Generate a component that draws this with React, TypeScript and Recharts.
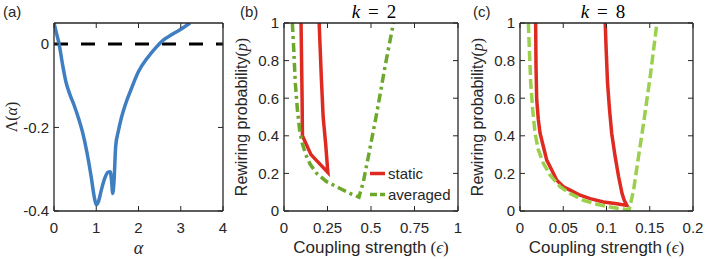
import React from "react";
import { LineChart, Line, XAxis, YAxis, ReferenceLine, Legend } from "recharts";

// (a) largest Lyapunov exponent vs alpha
const alphaValues = [0, 0.06, 0.12, 0.2, 0.28, 0.38, 0.48, 0.58, 0.68, 0.78, 0.88, 0.95, 1.0, 1.05, 1.12, 1.2, 1.28, 1.33, 1.36, 1.39, 1.42, 1.46, 1.52, 1.6, 1.7, 1.82, 2.0, 2.2, 2.4, 2.6, 2.8, 3.0, 3.22];
const lambdaValues = [0.05, 0.025, 0, -0.048, -0.09, -0.122, -0.148, -0.178, -0.213, -0.26, -0.318, -0.365, -0.385, -0.378, -0.35, -0.322, -0.307, -0.306, -0.325, -0.358, -0.33, -0.245, -0.21, -0.175, -0.142, -0.11, -0.066, -0.035, -0.01, 0.01, 0.023, 0.035, 0.05];
const alphaTicks = [0, 1, 2, 3, 4];
const lambdaTicks = [-0.4, -0.2, 0];

// (b) k = 2
const bStaticEps = [0.098, 0.101, 0.104, 0.106, 0.155, 0.252, 0.24, 0.225, 0.215, 0.202];
const bStaticP = [1, 0.8, 0.6, 0.4, 0.3, 0.205, 0.35, 0.5, 0.7, 1];
const bAvgEps = [0.048, 0.056, 0.065, 0.077, 0.09, 0.105, 0.125, 0.15, 0.188, 0.245, 0.322, 0.379, 0.431, 0.456, 0.485, 0.533, 0.581, 0.629];
const bAvgP = [1, 0.86, 0.68, 0.54, 0.43, 0.36, 0.3, 0.25, 0.2, 0.156, 0.12, 0.094, 0.074, 0.155, 0.29, 0.52, 0.77, 1];
const bEpsTicks = [0, 0.25, 0.5, 0.75, 1];

// (c) k = 8
const cStaticEps = [0.0181, 0.0185, 0.0193, 0.0212, 0.0232, 0.027, 0.0309, 0.0367, 0.0425, 0.0502, 0.0579, 0.0695, 0.0811, 0.0965, 0.112, 0.1236, 0.1205, 0.118, 0.114, 0.11, 0.106, 0.1035, 0.1012, 0.0996, 0.0985];
const cStaticP = [1, 0.771, 0.593, 0.486, 0.414, 0.343, 0.271, 0.218, 0.164, 0.129, 0.111, 0.084, 0.066, 0.048, 0.039, 0.03, 0.057, 0.093, 0.182, 0.289, 0.414, 0.539, 0.682, 0.861, 1];
const cAvgEps = [0.0097, 0.0108, 0.0124, 0.0147, 0.0174, 0.0212, 0.027, 0.0347, 0.0463, 0.0579, 0.0734, 0.0888, 0.1042, 0.1178, 0.1262, 0.1313, 0.137, 0.1429, 0.1506, 0.1583];
const cAvgP = [1, 0.861, 0.682, 0.539, 0.414, 0.325, 0.254, 0.191, 0.129, 0.093, 0.057, 0.036, 0.021, 0.011, 0.005, 0.111, 0.289, 0.468, 0.718, 1];
const cEpsTicks = [0, 0.05, 0.1, 0.15, 0.2];

const pTicks = [0, 0.2, 0.4, 0.6, 0.8, 1];
const seriesNames = ["static", "averaged"];

const FONT = '"Liberation Sans", Arial, Helvetica, sans-serif';
const SERIF = '"Liberation Serif", "Times New Roman", serif';
const AXIS = "#262626";
const BLUE = "#3e7ec1";
const RED = "#de2a20";
const GREEN_B = "#6ba82c";
const GREEN_C = "#9ad04c";

const H = 259;
const TOP = 23;
const X_AXIS_H = 48;
const Y_AXIS_W = 54;

const zip = (xs: number[], ys: number[]) => xs.map((x, i) => ({ x, y: ys[i] }));

const tickStyle = { fontSize: 15, fill: AXIS, fontFamily: FONT };
const noText = () => "";

// rotated y label, placed at a fixed x (baseline) and centred on the plot
const yLabel = (x: number, node: React.ReactNode) => ({
  content: (props: any) => {
    const vb = props.viewBox || {};
    const cy = (vb.y ?? TOP) + (vb.height ?? H - TOP - X_AXIS_H) / 2;
    return (
      <text x={x} y={cy} transform={`rotate(-90 ${x} ${cy})`} textAnchor="middle" fontFamily={FONT} fontSize={16} fill={AXIS}>
        {node}
      </text>
    );
  },
});

const xLabel = (y: number, node: React.ReactNode) => ({
  content: (props: any) => {
    const vb = props.viewBox || {};
    const cx = (vb.x ?? Y_AXIS_W) + (vb.width ?? 170) / 2;
    return (
      <text x={cx} y={y} textAnchor="middle" fontFamily={FONT} fontSize={17} fill={AXIS}>
        {node}
      </text>
    );
  },
});

// MATLAB style box: labels on bottom/left, inward ticks on all four sides
function boxAxes(
  xDomain: number[],
  xTicks: number[],
  yDomain: number[],
  yTicks: number[],
  xLab: any,
  yLab: any,
) {
  const line = { stroke: AXIS, strokeWidth: 1.3 };
  const tl = { stroke: AXIS, strokeWidth: 1 };
  return [
    <XAxis key="xb" type="number" dataKey="x" domain={xDomain} ticks={xTicks} interval={0} allowDataOverflow
      height={X_AXIS_H} tickLine={tl} tickSize={-5} tickMargin={16} tick={tickStyle}
      axisLine={line} label={xLab} />,
    <XAxis key="xt" xAxisId="t" orientation="top" type="number" dataKey="x" domain={xDomain} ticks={xTicks} interval={0} allowDataOverflow
      mirror height={1} tickFormatter={noText} tickSize={5} axisLine={line} tickLine={tl} />,
    <YAxis key="yl" type="number" domain={yDomain} ticks={yTicks} interval={0} allowDataOverflow
      width={Y_AXIS_W} tickLine={tl} tickSize={-5} tickMargin={10} tick={tickStyle}
      axisLine={line} label={yLab} />,
    <YAxis key="yr" yAxisId="r" orientation="right" type="number" domain={yDomain} ticks={yTicks} interval={0} allowDataOverflow
      mirror width={1} tickFormatter={noText} tickSize={5} axisLine={line} tickLine={tl} />,
  ];
}

const legendRows = [
  { name: seriesNames[0], color: RED, dash: undefined as string | undefined },
  { name: seriesNames[1], color: GREEN_B, dash: "7 3" },
];

function StaticLegend() {
  return (
    <div style={{ fontFamily: FONT, fontSize: 15, color: AXIS, lineHeight: "21px" }}>
      {legendRows.map((r) => (
        <div key={r.name} style={{ display: "flex", alignItems: "center", height: 21 }}>
          <svg width={18} height={21}>
            <line x1={1} x2={16} y1={10.5} y2={10.5} stroke={r.color} strokeWidth={3.5} strokeDasharray={r.dash} />
          </svg>
          <span style={{ marginLeft: 1 }}>{r.name}</span>
        </div>
      ))}
    </div>
  );
}

const epsLabel = (
  <>
    Coupling strength
    <tspan fontFamily={SERIF} dx={4}>(</tspan>
    <tspan fontFamily={SERIF} fontStyle="italic">ϵ</tspan>
    <tspan fontFamily={SERIF}>)</tspan>
  </>
);

const pLabel = (
  <>
    Rewiring probability
    <tspan fontFamily={SERIF}>(</tspan>
    <tspan fontFamily={SERIF} fontStyle="italic">p</tspan>
    <tspan fontFamily={SERIF}>)</tspan>
  </>
);

export default function App() {
  const aData = zip(alphaValues, lambdaValues);
  const bStatic = zip(bStaticEps, bStaticP);
  const bAvg = zip(bAvgEps, bAvgP);
  const cStatic = zip(cStaticEps, cStaticP);
  const cAvg = zip(cAvgEps, cAvgP);

  return (
    <div style={{ position: "fixed", left: 0, top: 0, width: 706, height: H, background: "#fff", overflow: "hidden" }}>
      {/* (a) */}
      <div style={{ position: "absolute", left: 0, top: 0 }}>
        <LineChart width={235} height={H} margin={{ top: TOP, right: 12, bottom: 0, left: 0 }}>
          {boxAxes(
            [0, 4], alphaTicks, [-0.4, 0.05], lambdaTicks,
            xLabel(254, <tspan fontFamily={SERIF} fontStyle="italic" fontSize={18}>α</tspan>),
            yLabel(17, (
              <>
                <tspan fontFamily={SERIF}>Λ(</tspan>
                <tspan fontFamily={SERIF} fontStyle="italic">α</tspan>
                <tspan fontFamily={SERIF}>)</tspan>
              </>
            )),
          )}
          <ReferenceLine y={0} stroke="#000" strokeWidth={3} strokeDasharray="14 13" />
          <Line data={aData} dataKey="y" type="monotone" stroke={BLUE} strokeWidth={3.5} dot={false} isAnimationActive={false} />
        </LineChart>
      </div>

      {/* (b) k = 2 */}
      <div style={{ position: "absolute", left: 230, top: 0 }}>
        <LineChart width={240} height={H} margin={{ top: TOP, right: 12, bottom: 0, left: 0 }}>
          {boxAxes([0, 1], bEpsTicks, [0, 1], pTicks, xLabel(253, epsLabel), yLabel(17, pLabel))}
          <Line data={bStatic} name={seriesNames[0]} dataKey="y" type="linear" stroke={RED} strokeWidth={3.5} dot={false} isAnimationActive={false} />
          <Line data={bAvg} name={seriesNames[1]} dataKey="y" type="linear" stroke={GREEN_B} strokeWidth={3.5} strokeDasharray="9 4 3 4" dot={false} isAnimationActive={false} />
          <Legend layout="vertical" align="center" verticalAlign="middle" content={() => <StaticLegend />}
            wrapperStyle={{ left: 139, top: 163, width: "auto", height: "auto" }} />
        </LineChart>
      </div>

      {/* (c) k = 8 */}
      <div style={{ position: "absolute", left: 466, top: 0 }}>
        <LineChart width={240} height={H} margin={{ top: TOP, right: 13, bottom: 0, left: 0 }}>
          {boxAxes([0, 0.2], cEpsTicks, [0, 1], pTicks, xLabel(253, epsLabel), yLabel(17, pLabel))}
          <Line data={cStatic} name={seriesNames[0]} dataKey="y" type="linear" stroke={RED} strokeWidth={3.5} dot={false} isAnimationActive={false} />
          <Line data={cAvg} name={seriesNames[1]} dataKey="y" type="linear" stroke={GREEN_C} strokeWidth={3.5} strokeDasharray="10 4" dot={false} isAnimationActive={false} />
        </LineChart>
      </div>

      {/* panel letters and titles */}
      <svg width={706} height={H} style={{ position: "absolute", left: 0, top: 0, pointerEvents: "none" }}>
        <text x={3} y={17} fontFamily={FONT} fontSize={15} fill={AXIS}>(a)</text>
        <text x={240} y={17} fontFamily={FONT} fontSize={15} fill={AXIS}>(b)</text>
        <text x={473} y={17} fontFamily={FONT} fontSize={15} fill={AXIS}>(c)</text>
        <text x={374} y={18} textAnchor="middle" fontFamily={SERIF} fontSize={19} fill="#000">
          <tspan fontStyle="italic">k</tspan>
          <tspan dx={8}>=</tspan>
          <tspan dx={8}>2</tspan>
        </text>
        <text x={603} y={18} textAnchor="middle" fontFamily={SERIF} fontSize={19} fill="#000">
          <tspan fontStyle="italic">k</tspan>
          <tspan dx={8}>=</tspan>
          <tspan dx={8}>8</tspan>
        </text>
      </svg>
    </div>
  );
}
